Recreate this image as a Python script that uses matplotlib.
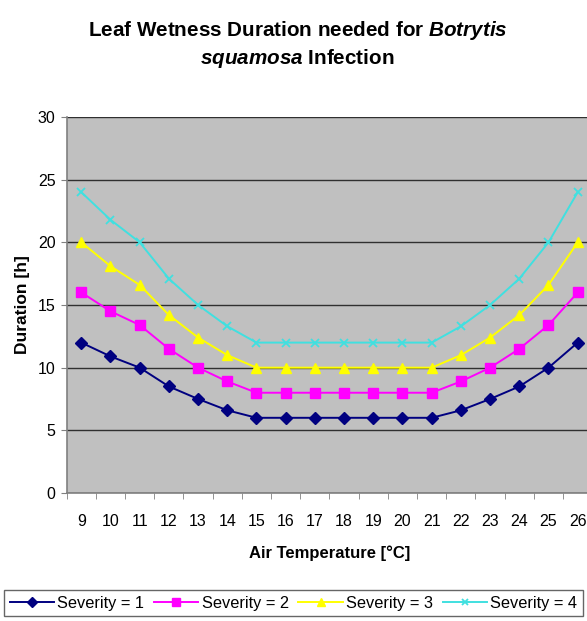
import matplotlib
matplotlib.use("Agg")
import matplotlib.pyplot as plt
import numpy as np

temps = [9, 10, 11, 12, 13, 14, 15, 16, 17, 18, 19, 20, 21, 22, 23, 24, 25, 26]
sev1 = [12, 10.9, 10, 8.5, 7.5, 6.6, 6, 6, 6, 6, 6, 6, 6, 6.6, 7.5, 8.5, 10, 12]
sev2 = [16, 14.5, 13.4, 11.5, 10, 8.9, 8, 8, 8, 8, 8, 8, 8, 8.9, 10, 11.5, 13.4, 16]
sev3 = [20, 18.1, 16.6, 14.2, 12.4, 11, 10, 10, 10, 10, 10, 10, 10, 11, 12.4, 14.2, 16.6, 20]
sev4 = [24, 21.8, 20, 17.1, 15, 13.3, 12, 12, 12, 12, 12, 12, 12, 13.3, 15, 17.1, 20, 24]
series_labels = ["Severity = 1", "Severity = 2", "Severity = 3", "Severity = 4"]
yticks = [0, 5, 10, 15, 20, 25, 30]

plt.rcParams['font.family'] = ['Liberation Sans', 'DejaVu Sans']
plt.rcParams['mathtext.fontset'] = 'custom'
plt.rcParams['mathtext.it'] = 'Liberation Sans:italic:bold'
plt.rcParams['mathtext.rm'] = 'Liberation Sans:bold'
plt.rcParams['mathtext.bf'] = 'Liberation Sans:bold'

W, H = 587, 621
fig = plt.figure(figsize=(W / 100, H / 100), dpi=100)
fig.patch.set_facecolor('white')

ax = fig.add_axes([66.7 / W, 1 - 493 / H, 525.6 / W, 376 / H])
ax.set_facecolor('#C0C0C0')

x = np.arange(len(temps))
styles = [
    dict(color='#000080', marker='D', markersize=6, mfc='#000080', mec='#000080'),
    dict(color='#FF00FF', marker='s', markersize=6.5, mfc='#FF00FF', mec='#FF00FF'),
    dict(color='#FFFF00', marker='^', markersize=7, mfc='#FFFF00', mec='#FFFF00'),
    dict(color='#40E0E0', marker='x', markersize=6, mew=1.3),
]
handles = []
for vals, lab, st in zip([sev1, sev2, sev3, sev4], series_labels, styles):
    h, = ax.plot(x, vals, lw=1.4, label=lab, zorder=3, **st)
    handles.append(h)

ax.set_xlim(-0.5, len(temps) - 0.5)
ax.set_ylim(0, 30)
ax.set_yticks(yticks)
ax.set_yticklabels([str(v) for v in yticks], fontsize=11.5)
ax.yaxis.grid(True, color='#303030', lw=1)
ax.set_axisbelow(True)
ax.set_xticks(x)
ax.set_xticklabels([str(t) for t in temps], fontsize=11.5)
ax.set_xticks(np.arange(-0.5, len(temps) + 0.5, 1), minor=True)
ax.tick_params(axis='x', which='major', length=0, pad=15)
ax.tick_params(axis='x', which='minor', length=4, color='#808080')
ax.tick_params(axis='y', length=4, color='#808080', pad=4)

for s in ['top', 'right']:
    ax.spines[s].set_visible(False)
for s in ['left', 'bottom']:
    ax.spines[s].set_color('#808080')
    ax.spines[s].set_linewidth(1.2)

ax.set_ylabel('Duration [h]', fontsize=12.5, fontweight='bold', labelpad=6)
ax.set_xlabel('Air Temperature [°C]', fontsize=12, fontweight='bold', labelpad=12)

fig.text(298 / W, 1 - 30 / H, r'Leaf Wetness Duration needed for $\it{Botrytis}$',
         ha='center', va='center', fontsize=14.9, fontweight='bold')
fig.text(297 / W, 1 - 58 / H, r'$\it{squamosa}$ Infection',
         ha='center', va='center', fontsize=14.9, fontweight='bold')

leg = fig.legend(handles=handles, loc='upper left', bbox_to_anchor=(4 / W, 1 - 590 / H),
                 ncol=4, fontsize=11.8, frameon=True, fancybox=False, shadow=False,
                 handlelength=2.7, handletextpad=0.2, columnspacing=0.6,
                 borderpad=0.35, borderaxespad=0, markerscale=0.8)
leg.get_frame().set_edgecolor('#404040')
leg.get_frame().set_linewidth(1)

fig.savefig('out.png', dpi=100)
